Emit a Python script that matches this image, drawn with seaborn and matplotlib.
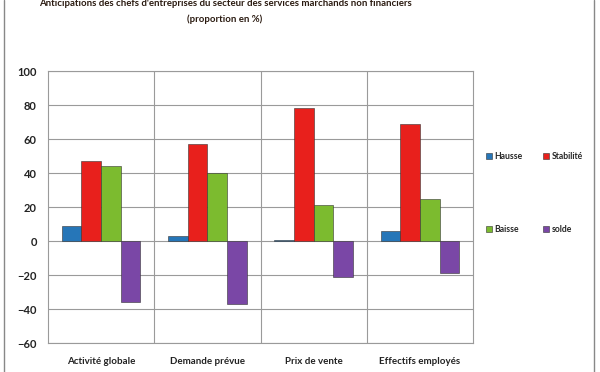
import pandas as pd
import matplotlib.pyplot as plt
import seaborn as sns
from matplotlib.patches import Patch

categories = ['Activité globale', 'Demande prévue', 'Prix de vente', 'Effectifs employés']
series = ['Hausse', 'Stabilité', 'Baisse', 'solde']
hausse = [9, 3, 0.4, 6]
stabilite = [47, 57, 78, 69]
baisse = [44, 40, 21, 25]
solde = [-36, -37, -21, -19]
yticks = [-60, -40, -20, 0, 20, 40, 60, 80, 100]
colors = ['#2676B8', '#E8201C', '#7CBB2F', '#7A47A6']

titleText = "Anticipations des chefs d'entreprises du secteur des services marchands non financiers"
subtitleText = "(proportion en %)"

rows = []
for name, vals in zip(series, [hausse, stabilite, baisse, solde]):
    for cat, v in zip(categories, vals):
        rows.append({'Catégorie': cat, 'Série': name, 'Valeur': v})
df = pd.DataFrame(rows)

sns.set_style("white")
plt.rcParams['font.family'] = ['Lato', 'DejaVu Sans']

fig = plt.figure(figsize=(6, 3.72), dpi=100)
ax = fig.add_axes([48/600, 1 - 343/372, 425/600, 272/372])

sns.barplot(
    data=df, x='Catégorie', y='Valeur', hue='Série',
    order=categories, hue_order=series, palette=colors, saturation=1,
    width=0.74, gap=0, edgecolor='#333333', linewidth=0.4,
    legend=False, ax=ax
)

ax.set_ylim(-60, 100)
ax.set_xlim(-0.5, 3.5)
ax.set_yticks(yticks)
ax.set_xticks([0.5, 1.5, 2.5], minor=True)
ax.grid(axis='y', which='major', color='#9a9a9a', linewidth=0.8)
ax.grid(axis='x', which='minor', color='#9a9a9a', linewidth=0.8)
ax.set_axisbelow(True)
ax.tick_params(axis='both', which='both', length=0, colors='#222222')
ax.tick_params(axis='x', pad=10, labelsize=7)
ax.tick_params(axis='y', pad=8, labelsize=8)
for lbl in ax.get_xticklabels() + ax.get_yticklabels():
    lbl.set_fontweight('bold')
ax.set_xlabel('')
ax.set_ylabel('')
for s in ax.spines.values():
    s.set_color('#9a9a9a')
    s.set_linewidth(0.8)

# column-major fill: first column Hausse/Baisse, second Stabilité/solde
legendOrder = [0, 2, 1, 3]
handles = [Patch(facecolor=colors[i], edgecolor='#333333', linewidth=0.4) for i in legendOrder]
labels = [series[i] for i in legendOrder]
fig.legend(
    handles, labels, ncol=2, loc='upper left', bbox_to_anchor=(486/600, 1 - 152/372),
    frameon=False, borderpad=0, borderaxespad=0, handlelength=0.7, handleheight=0.7,
    handletextpad=0.25, columnspacing=2.4, labelspacing=7.4,
    prop={'weight': 'bold', 'size': 6.2}
)

fig.text(225/600, 1 - 3/372, titleText, ha='center', va='center',
         fontsize=6.9, fontweight='bold', color='#2a1a10')
fig.text(225/600, 1 - 19/372, subtitleText, ha='center', va='center',
         fontsize=6.9, fontweight='bold', color='#2a1a10')

fig.add_artist(plt.Line2D([4/600, 4/600], [0, 1], color='#888888', linewidth=1))
fig.add_artist(plt.Line2D([594/600, 594/600], [0, 1], color='#888888', linewidth=1))

fig.savefig('out.png', dpi=100)
plt.close(fig)
